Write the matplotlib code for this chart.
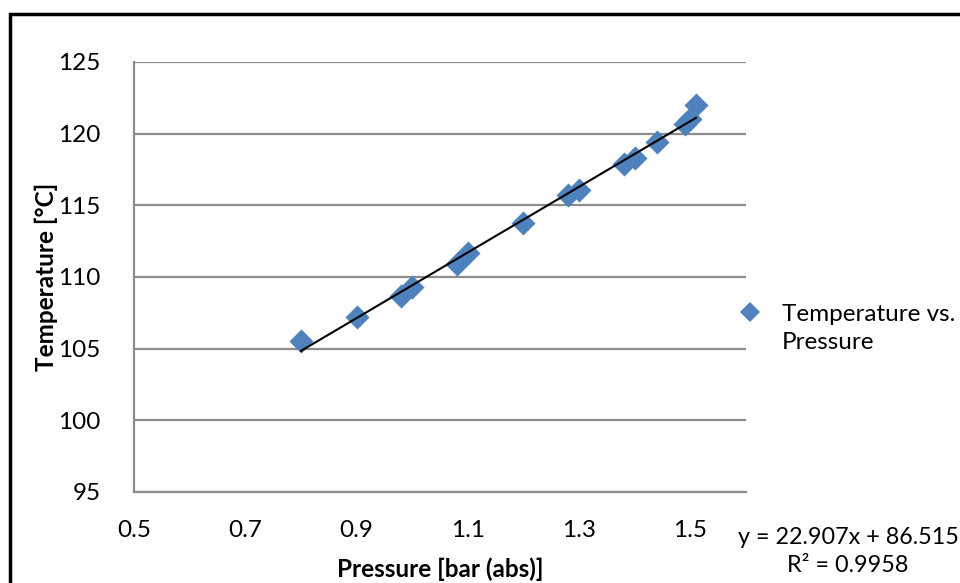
import numpy as np
import matplotlib
matplotlib.use("Agg")
import matplotlib.pyplot as plt
from matplotlib.patches import Rectangle
from matplotlib.lines import Line2D

plt.rcParams['font.family'] = ['Lato', 'DejaVu Sans']

# data
pressure = [0.80, 0.90, 0.98, 1.00, 1.08, 1.10, 1.20, 1.28, 1.30, 1.38, 1.40, 1.44, 1.49, 1.50, 1.51]
temperature = [105.5, 107.2, 108.7, 109.3, 110.9, 111.7, 113.8, 115.7, 116.1, 117.9, 118.3, 119.4, 120.7, 121.0, 122.0]

slope = 22.907
intercept = 86.515
r2 = 0.9958
series_name = 'Temperature vs.\nPressure'

blue = '#4F81BD'
grid_col = '#8C8C8C'
fs = 17.5

fig = plt.figure(figsize=(9.6, 5.83), dpi=100)
ax = fig.add_axes([134/960, 1-492/583, (746-134)/960, (492-62)/583])

ax.scatter(pressure, temperature, marker='D', s=150, color=blue, zorder=3, linewidths=0)

xs = np.array([min(pressure), max(pressure)])
ax.plot(xs, slope*xs + intercept, color='black', lw=1.5, zorder=4)

ax.set_xlim(0.5, 1.6)
ax.set_ylim(95, 125)
ax.set_xticks([0.5, 0.7, 0.9, 1.1, 1.3, 1.5])
ax.set_xticklabels(['0.5', '0.7', '0.9', '1.1', '1.3', '1.5'])
ax.set_yticks(range(95, 126, 5))

ax.yaxis.grid(True, color=grid_col, lw=1.6)
ax.set_axisbelow(True)
for s in ['top', 'right']:
    ax.spines[s].set_visible(False)
for s in ['left', 'bottom']:
    ax.spines[s].set_color(grid_col)
    ax.spines[s].set_linewidth(1.6)
ax.tick_params(length=0, labelsize=fs)
ax.tick_params(axis='x', pad=20)
ax.tick_params(axis='y', pad=24)

ax.set_xlabel('Pressure [bar (abs)]', fontsize=fs, fontweight='bold', labelpad=12)
ax.set_ylabel('Temperature [°C]', fontsize=fs, fontweight='bold', labelpad=0)

# legend entry (marker next to first line of the name)
fig.add_artist(Line2D([750/960], [1-312/583], marker='D', markersize=10, color=blue,
                      markeredgewidth=0, transform=fig.transFigure))
fig.text(782/960, 1-328.5/583, series_name, fontsize=fs, ha='left', va='center',
         linespacing=1.45)

fig.text(848/960, 1-538/583, f'y = {slope}x + {intercept}', fontsize=16.8, ha='center', va='center')
fig.text(848/960, 1-566/583, f'R² = {r2}', fontsize=16.8, ha='center', va='center')

fig.add_artist(Rectangle((10/960, -0.1), 1.2, 1-14/583+0.1, transform=fig.transFigure,
                         fill=False, edgecolor='black', lw=2.5))

fig.savefig('out.png', dpi=100)
